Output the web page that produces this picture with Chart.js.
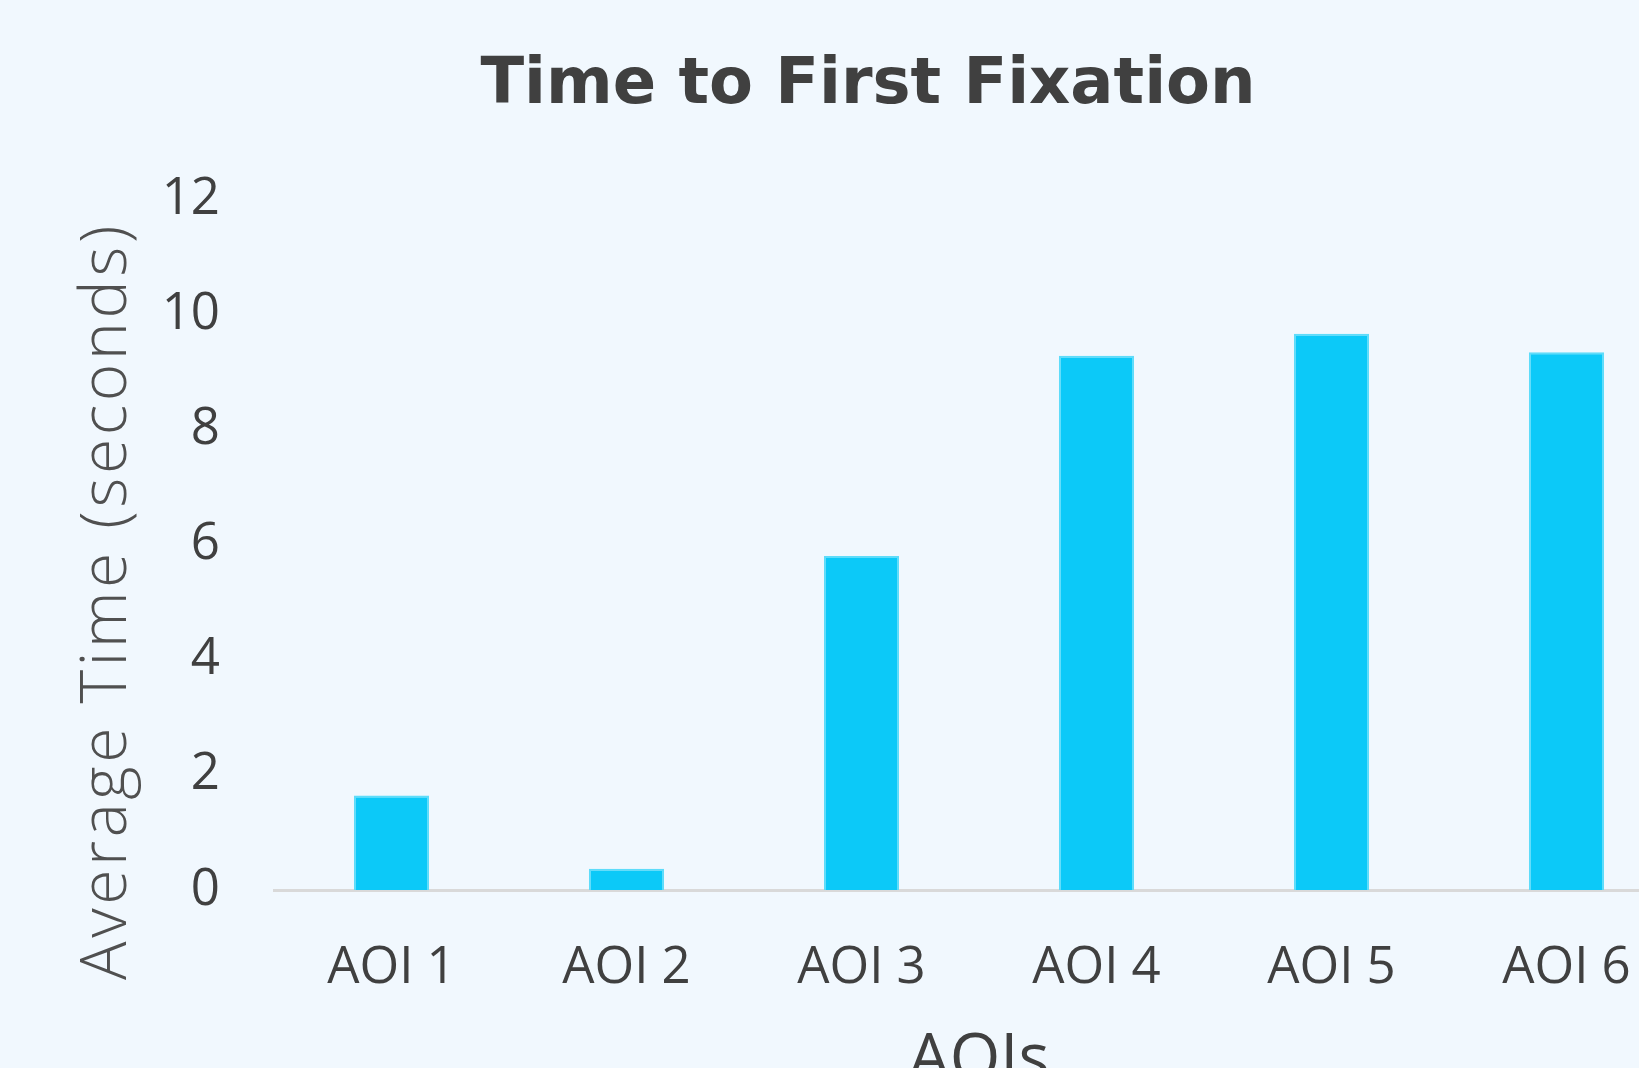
<!DOCTYPE html>
<html>
<head>
<meta charset="utf-8">
<title>Time to First Fixation</title>
<script src="https://cdn.jsdelivr.net/npm/chart.js@4.4.1/dist/chart.umd.min.js"></script>
<style>
  html, body {
    margin: 0;
    padding: 0;
    background: #f1f8fe;
    overflow: hidden;
    width: 1639px;
    height: 1068px;
  }
  #wrap {
    position: absolute;
    left: 0;
    top: 0;
    width: 1736px;
    height: 1120px;
  }
</style>
</head>
<body>
<div id="wrap"><canvas id="ttffChart"></canvas></div>
<script>
// data
const aoiLabels = ["AOI 1", "AOI 2", "AOI 3", "AOI 4", "AOI 5", "AOI 6"];
const avgTimes = [1.64, 0.37, 5.8, 9.28, 9.66, 9.34];
const yTicks = [0, 2, 4, 6, 8, 10, 12];

const chartTitle = "Time to First Fixation";
const yTitle = "Average Time (seconds)";
const xTitle = "AOIs";

const BAR_COLOR = "#0cc9f8";
const TEXT_DARK = "#404040";

// the titles in the original are not centred on the plot area,
// so draw the chart title and the y title ourselves
const titlesPlugin = {
  id: "titlesPlugin",
  afterDraw(chart) {
    const ctx = chart.ctx;
    ctx.save();
    ctx.font = 'bold 64px "DejaVu Sans"';
    ctx.fillStyle = TEXT_DARK;
    ctx.textAlign = "center";
    ctx.textBaseline = "middle";
    ctx.fillText(chartTitle, 868, 86);
    ctx.restore();

    ctx.save();
    ctx.translate(108, 601);
    ctx.rotate(-Math.PI / 2);
    ctx.font = '300 64px "Open Sans"';
    ctx.letterSpacing = "3.7px";
    ctx.fillStyle = "#505050";
    ctx.textAlign = "center";
    ctx.textBaseline = "middle";
    ctx.fillText(yTitle, 0, 0);
    ctx.restore();
  },
};

const ctx = document.getElementById("ttffChart").getContext("2d");
new Chart(ctx, {
  type: "bar",
  data: {
    labels: aoiLabels,
    datasets: [
      {
        label: yTitle,
        data: avgTimes,
        backgroundColor: BAR_COLOR,
        borderColor: "#5edcfa",
        borderWidth: { left: 2, right: 2, top: 2, bottom: 0 },
        borderSkipped: false,
        categoryPercentage: 1,
        barPercentage: 0.32,
      },
    ],
  },
  options: {
    responsive: true,
    maintainAspectRatio: false,
    animation: false,
    layout: { padding: { left: 0, top: 199, bottom: 0, right: 52 } },
    scales: {
      x: {
        grid: { display: false, drawTicks: false },
        border: { display: true, color: "#d9d9d9", width: 3 },
        ticks: {
          color: TEXT_DARK,
          font: { family: "'Open Sans', sans-serif", size: 51 },
          padding: 48,
          maxRotation: 0,
          autoSkip: false,
        },
        title: {
          display: true,
          text: xTitle,
          color: TEXT_DARK,
          font: { family: "'Open Sans', sans-serif", size: 65, lineHeight: 1.2 },
          padding: { top: 0, bottom: 20 },
        },
        afterFit(scale) {
          scale.height = 230;
        },
      },
      y: {
        min: 0,
        max: 12,
        afterBuildTicks(scale) {
          scale.ticks = yTicks.map((v) => ({ value: v }));
        },
        grid: { display: false, drawTicks: false },
        border: { display: false },
        ticks: {
          color: TEXT_DARK,
          font: { family: "'Open Sans', sans-serif", size: 51 },
          padding: 54,
        },
        afterFit(scale) {
          scale.width = 274;
        },
      },
    },
    plugins: {
      legend: { display: false },
      tooltip: { enabled: false },
      title: { display: false },
    },
  },
  plugins: [titlesPlugin],
});
</script>
</body>
</html>
